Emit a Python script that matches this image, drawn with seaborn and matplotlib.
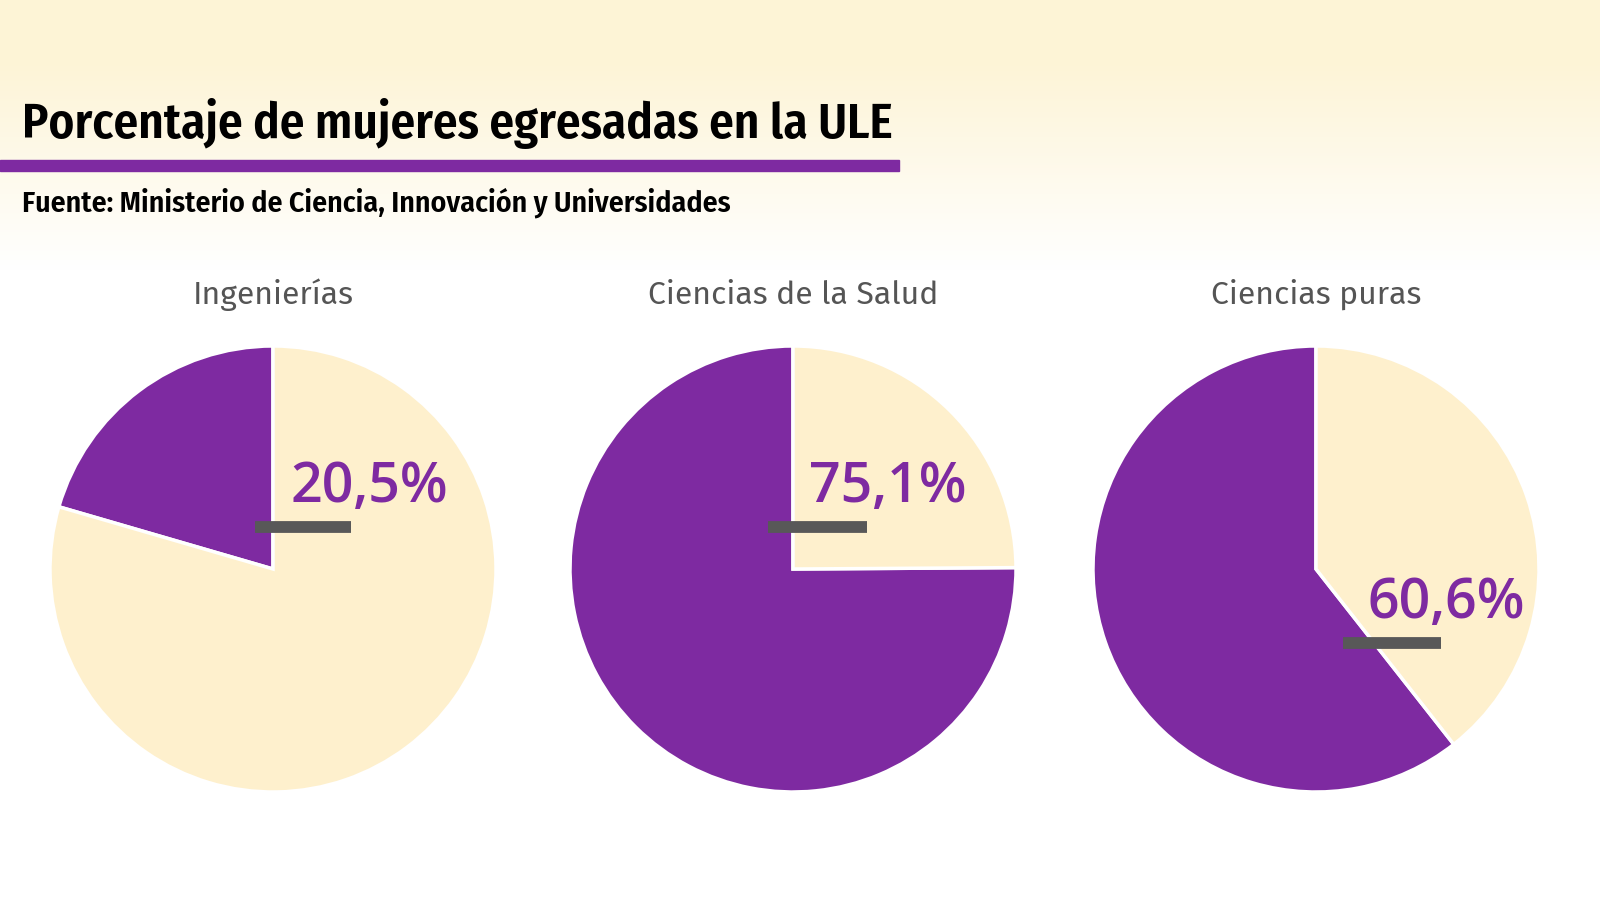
import numpy as np
import matplotlib
matplotlib.use("Agg")
import matplotlib.pyplot as plt
from matplotlib import font_manager as fm
import seaborn as sns

# --- data ---
fields = ["Ingenierías", "Ciencias de la Salud", "Ciencias puras"]
women_pct = [20.5, 75.1, 60.6]
pct_labels = ["20,5%", "75,1%", "60,6%"]

title = "Porcentaje de mujeres egresadas en la ULE"
source = "Fuente: Ministerio de Ciencia, Innovación y Universidades"

PURPLE = "#7e2aa1"
CREAM = "#fef0cd"
GREY_BAR = "#585858"
GREY_TXT = "#555555"

# label layout (in pie-radius units, relative to centre): text x, text y, bar x0, bar x1, bar y
label_layout = [
    (0.08, 0.30, -0.08, 0.35, 0.19),
    (0.07, 0.30, -0.11, 0.33, 0.19),
    (0.23, -0.22, 0.12, 0.56, -0.33),
]


def first_font(cands, fallback="DejaVu Sans"):
    names = {f.name for f in fm.fontManager.ttflist}
    for c in cands:
        if c in names:
            return c
    return fallback


cond_font = first_font(["Fira Sans Condensed", "Roboto Condensed", "Encode Sans Condensed",
                        "Open Sans Condensed", "IBM Plex Sans Condensed"])
label_font = first_font(["Open Sans", "Noto Sans"])
head_font = first_font(["Fira Sans", "Open Sans"])

sns.set_theme(style="white")
plt.rcParams["font.family"] = [label_font, "DejaVu Sans"]

W, H = 1600, 900
fig = plt.figure(figsize=(16, 9), dpi=100)

# background gradient: cream at top fading to white
bg = fig.add_axes([0, 0, 1, 1], zorder=-10)
ys = np.arange(H)
t = np.clip((ys - 60) / 210.0, 0, 1)
top = np.array([253, 244, 214]) / 255.0
col = top[None, :] * (1 - t[:, None]) + np.ones(3)[None, :] * t[:, None]
grad = np.repeat(col[:, None, :], 4, axis=1)
bg.imshow(grad, aspect="auto", extent=[0, 1, 0, 1], origin="upper")
bg.set_axis_off()

# title, rule, source (font size fitted to the reference text width)
renderer = fig.canvas.get_renderer()


def fitted_text(x, y, s, width_px, size, weight):
    txt = fig.text(x / W, 1 - y / H, s, fontsize=size, fontweight=weight,
                   family=[cond_font, "DejaVu Sans"], color="black",
                   va="baseline", ha="left")
    w = txt.get_window_extent(renderer).width
    txt.set_fontsize(size * width_px / w)
    return txt


fitted_text(22, 138, title, 871, 38, "semibold")
fig.patches.append(plt.Rectangle((0, 1 - 171 / H), 899 / W, 11 / H,
                                 transform=fig.transFigure, color=PURPLE))
fitted_text(22, 212, source, 708, 22, "semibold")

# pies
R = 223
centers = [273, 793, 1316]
cy = 569
lim = 1.06
for i, (name, pct, lab) in enumerate(zip(fields, women_pct, pct_labels)):
    size = 2 * lim * R
    ax = fig.add_axes([(centers[i] - size / 2) / W, (H - cy - size / 2) / H,
                       size / W, size / H])
    ax.pie([pct, 100 - pct], colors=[PURPLE, CREAM], startangle=90,
           counterclock=True, radius=1,
           wedgeprops=dict(edgecolor="white", linewidth=2.5))
    ax.set_xlim(-lim, lim)
    ax.set_ylim(-lim, lim)
    ax.set_aspect("equal")
    ax.set_axis_off()

    tx, ty, bx0, bx1, by = label_layout[i]
    ax.plot([bx0, bx1], [by, by], color=GREY_BAR, lw=8.5, solid_capstyle="butt")
    ax.text(tx, ty, lab, fontsize=40, fontweight="semibold", color=PURPLE,
            ha="left", va="baseline")

    fig.text(centers[i] / W, 1 - 304 / H, name, fontsize=23, color=GREY_TXT,
             family=[head_font, "DejaVu Sans"], ha="center", va="baseline")

fig.savefig("out.png", dpi=100)
